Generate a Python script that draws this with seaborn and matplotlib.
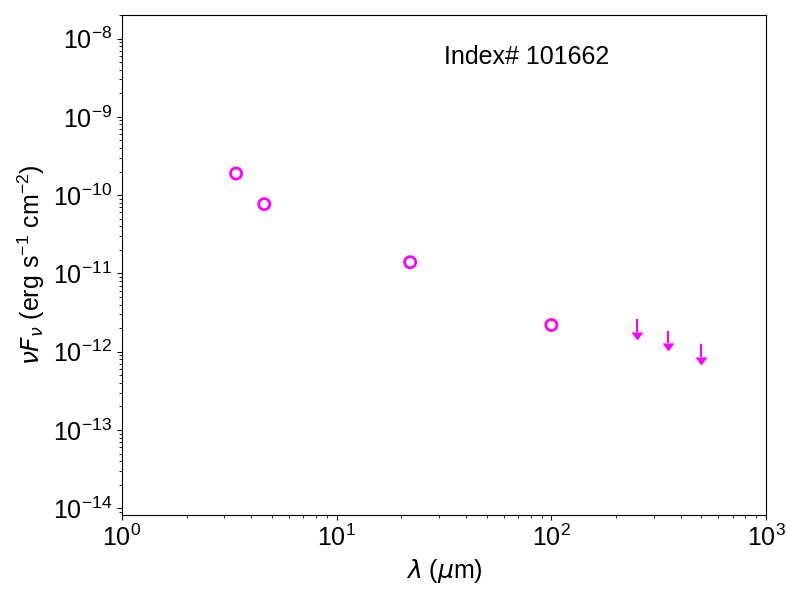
import matplotlib
matplotlib.use("Agg")
import matplotlib.pyplot as plt
import seaborn as sns
import pandas as pd

# Detections
wavelength_um = [3.4, 4.6, 22.0, 100.0]
nuFnu = [1.89e-10, 7.67e-11, 1.39e-11, 2.19e-12]

# Upper limits
lim_wavelength_um = [250.0, 350.0, 500.0]
lim_nuFnu = [2.62e-12, 1.84e-12, 1.27e-12]
lim_err = [0.84e-12, 0.55e-12, 0.41e-12]

label_text = "Index# 101662"

sns.set_style("white")
plt.rcParams['font.family'] = ['Liberation Sans', 'DejaVu Sans']
plt.rcParams['mathtext.fontset'] = 'dejavusans'
plt.rcParams['text.color'] = 'black'
plt.rcParams['axes.labelcolor'] = 'black'
plt.rcParams['xtick.color'] = 'black'
plt.rcParams['ytick.color'] = 'black'

fig, ax = plt.subplots(figsize=(8, 6), dpi=100)
fig.subplots_adjust(left=0.1525, right=0.9575, top=0.975, bottom=0.1417)

df = pd.DataFrame({"wl": wavelength_um, "f": nuFnu})
sns.scatterplot(data=df, x="wl", y="f", ax=ax, marker='o', s=64,
                facecolor='none', edgecolor='magenta', linewidth=2.0, zorder=3)

eb = ax.errorbar(lim_wavelength_um, lim_nuFnu, yerr=lim_err, uplims=True,
                 fmt='none', ecolor='magenta', elinewidth=1.5, capsize=0)
for cl in eb[1]:
    cl.set_markersize(7)
    cl.set_markerfacecolor('magenta')
    cl.set_markeredgecolor('magenta')
    cl.set_color('magenta')

ax.set_xscale('log')
ax.set_yscale('log')
ax.set_xlim(1, 1000)
ax.set_ylim(8.2e-15, 2e-8)

ax.set_xlabel(r'$\lambda$ ($\mu$m)', fontsize=18)
ax.set_ylabel(r'$\nu F_\nu$ (erg s$^{\mathdefault{-1}}$ cm$^{\mathdefault{-2}}$)', fontsize=18)
ax.tick_params(axis='both', which='major', labelsize=18, direction='out', length=3.5, width=0.8,
               bottom=True, left=True, colors='black')
ax.tick_params(axis='both', which='minor', direction='out', length=2, width=0.6,
               bottom=True, left=True, colors='black')
for s in ax.spines.values():
    s.set_visible(True)
    s.set_color('black')
    s.set_linewidth(0.8)

ax.text(0.629, 0.916, label_text, transform=ax.transAxes, ha='center', va='center',
        fontsize=18, color='black')

fig.savefig("out.png", dpi=100)
